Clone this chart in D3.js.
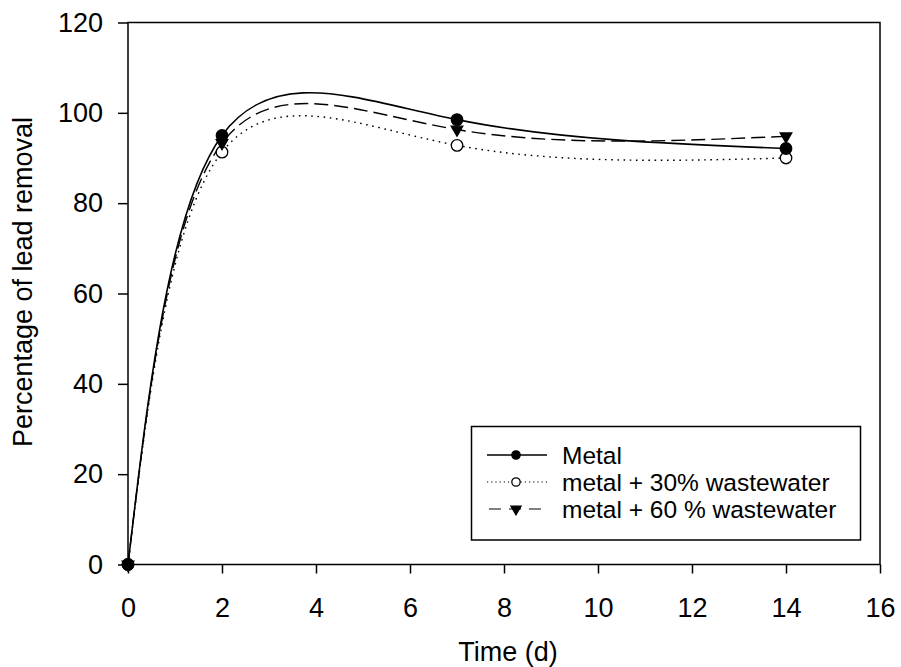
<!DOCTYPE html>
<html><head><meta charset="utf-8">
<script src="https://cdn.jsdelivr.net/npm/d3@7"></script>
<style>
body{margin:0;background:#fff}
svg{display:block}
text{font-family:"Liberation Sans",Arial,sans-serif;fill:#000}
</style>
</head><body><svg id="c" width="901" height="667"></svg>
<script>
// ---- data ----
const days = [0, 2, 7, 14];
const metal = [0, 95.0, 98.5, 92.1];
const metal30 = [0, 91.3, 92.8, 90.0];
const metal60 = [0, 93.3, 96.3, 94.8];
const seriesNames = ["Metal", "metal + 30% wastewater", "metal + 60 % wastewater"];
const xTicks = [0, 2, 4, 6, 8, 10, 12, 14, 16];
const yTicks = [0, 20, 40, 60, 80, 100, 120];
const xTitle = "Time (d)";
const yTitle = "Percentage of lead removal";

// ---- layout ----
const svg = d3.select("#c");
const L = 128, R = 880, T = 22.5, B = 564.5;
const x = d3.scaleLinear().domain([0, 16]).range([L, R]);
const y = d3.scaleLinear().domain([0, 120]).range([B, T]);

const series = [
  {name: seriesNames[0], vals: metal, dash: null, sym: "circle", fill: "#000"},
  {name: seriesNames[1], vals: metal30, dash: "1.6,4.6", sym: "circle", fill: "#fff"},
  {name: seriesNames[2], vals: metal60, dash: "14,6", sym: "triangle", fill: "#000"}
];

// axes
const ax = svg.append("g").attr("transform", `translate(0,${B})`)
  .call(d3.axisBottom(x).tickValues(xTicks).tickSize(9).tickPadding(24).tickFormat(d3.format("d")));
const ay = svg.append("g").attr("transform", `translate(${L},0)`)
  .call(d3.axisLeft(y).tickValues(yTicks).tickSize(10).tickPadding(15).tickFormat(d3.format("d")));
[ax, ay].forEach(g => {
  g.select(".domain").remove();
  g.selectAll(".tick line").attr("stroke", "#000").attr("stroke-width", 1.5);
  g.selectAll(".tick text").attr("font-size", 27).attr("font-family", '"Liberation Sans",Arial,sans-serif').attr("fill", "#000");
});
svg.append("rect").attr("x", L).attr("y", T).attr("width", R - L).attr("height", B - T)
  .attr("fill", "none").attr("stroke", "#000").attr("stroke-width", 1.5);

// titles
svg.append("text").attr("x", 508).attr("y", 661).attr("text-anchor", "middle")
  .attr("font-size", 27).text(xTitle);
svg.append("text").attr("transform", "translate(32,282) rotate(-90)").attr("text-anchor", "middle")
  .attr("font-size", 27).text(yTitle);

// lines
const line = d3.line().x((d, i) => x(days[i])).y(d => y(d)).curve(d3.curveNatural);
series.forEach(s => {
  svg.append("path").attr("d", line(s.vals)).attr("fill", "none").attr("stroke", "#000")
    .attr("stroke-width", s.dash ? 1.4 : 1.6).attr("stroke-dasharray", s.dash);
});

function symPath(type, big) {
  if (type === "circle") return d3.symbol(d3.symbolCircle, big ? 104 : 55)();
  return d3.symbol(d3.symbolTriangle, big ? 58 : 44)();
}
function drawSym(g, s, cx, cy, big) {
  g.append("path").attr("d", symPath(s.sym, big))
    .attr("transform", `translate(${cx},${cy})` + (s.sym === "triangle" ? " rotate(180)" : ""))
    .attr("fill", s.fill).attr("stroke", "#000").attr("stroke-width", 1.3);
}
// markers (order: 30%, metal, 60%)
[series[1], series[0], series[2]].forEach(s => {
  const g = svg.append("g");
  s.vals.forEach((v, i) => drawSym(g, s, x(days[i]), y(v), true));
});

// legend
svg.append("rect").attr("x", 471.5).attr("y", 426.5).attr("width", 389).attr("height", 113.5)
  .attr("fill", "#fff").attr("stroke", "#000").attr("stroke-width", 1.5);
const rowY = [455, 482, 509];
series.forEach((s, i) => {
  const g = svg.append("g");
  g.append("line").attr("x1", 487).attr("x2", 547).attr("y1", rowY[i]).attr("y2", rowY[i])
    .attr("stroke", "#000").attr("stroke-width", s.dash ? 1.2 : 1.5)
    .attr("stroke-dasharray", s.dash ? (s.sym === "circle" ? "1.2,3" : "12,8") : null)
    .attr("stroke-dashoffset", s.sym === "triangle" ? -2 : 0);
  drawSym(g, s, 516, rowY[i], false);
  g.append("text").attr("x", 562).attr("y", rowY[i] + 9).attr("font-size", 24.5).text(s.name);
});
</script>
</body></html>
